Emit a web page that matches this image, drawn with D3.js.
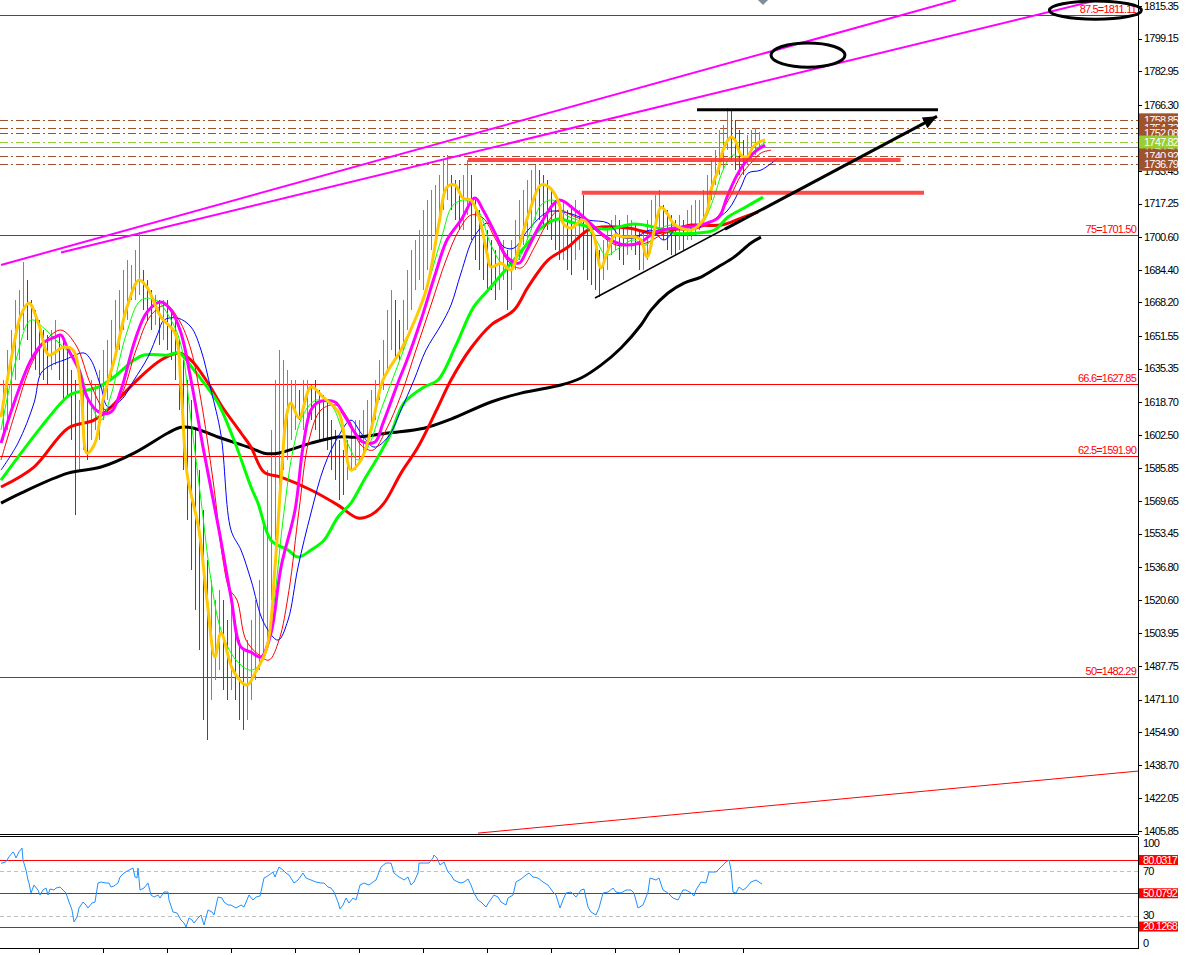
<!DOCTYPE html>
<html><head><meta charset="utf-8">
<script src="https://cdn.jsdelivr.net/npm/d3@7"></script>
<style>
html,body{margin:0;padding:0;background:#fff;overflow:hidden}
svg text{font-family:"Liberation Sans",Arial,sans-serif;font-size:11px;letter-spacing:-0.8px}
</style></head><body>
<svg id="c" width="1186" height="955"></svg>
<script>
// ---------------- DATA ----------------
const priceTicks = [1815.35,1799.15,1782.95,1766.30,1733.45,1717.25,1700.60,1684.40,1668.20,1651.55,1635.35,1618.70,1602.50,1585.85,1569.65,1553.45,1536.80,1520.60,1503.95,1487.75,1471.10,1454.90,1438.70,1422.05,1405.85];

const highs = [1629.7,1644.6,1654.5,1669.4,1674.3,1688.2,1679.3,1669.4,1664.4,1659.5,
1654.5,1652.0,1654.5,1659.5,1652.0,1649.5,1644.6,1634.6,1629.7,1619.7,
1624.7,1619.7,1629.7,1627.2,1634.6,1644.6,1649.5,1659.5,1669.4,1674.3,
1684.3,1689.2,1686.8,1694.2,1703.1,1684.3,1679.3,1674.3,1671.9,1669.4,
1669.4,1669.4,1664.4,1659.5,1649.5,1639.6,1629.7,1619.7,1604.9,1585.0,
1565.1,1540.3,1530.4,1520.5,1525.4,1520.5,1510.5,1520.5,1510.5,1500.6,
1495.6,1500.6,1510.5,1520.5,1530.4,1560.2,1585.0,1604.9,1629.7,1644.6,
1639.6,1634.6,1629.7,1629.7,1624.7,1629.7,1629.7,1627.2,1629.7,1624.7,
1622.2,1619.7,1609.8,1604.9,1599.9,1594.9,1599.9,1604.9,1609.8,1609.8,
1614.8,1619.7,1624.7,1629.7,1639.6,1649.5,1664.4,1674.3,1669.4,1659.5,
1669.4,1684.3,1694.2,1699.2,1704.1,1714.1,1719.0,1724.0,1726.5,1731.4,
1738.9,1741.4,1731.4,1729.0,1729.0,1731.4,1738.9,1731.4,1719.0,1714.1,
1704.1,1704.1,1699.2,1694.2,1696.7,1699.2,1694.2,1699.2,1709.1,1719.0,
1724.0,1729.0,1733.9,1736.4,1733.9,1731.4,1729.0,1724.0,1719.0,1716.5,
1719.0,1714.1,1716.5,1719.0,1714.1,1721.5,1709.1,1704.1,1699.2,1694.2,
1699.2,1704.1,1709.1,1711.6,1709.1,1706.6,1711.6,1709.1,1706.6,1704.1,
1704.1,1709.1,1719.0,1721.5,1724.0,1716.5,1714.1,1711.6,1709.1,1711.6,
1709.1,1714.1,1716.5,1719.0,1719.0,1724.0,1731.4,1738.9,1743.8,1753.8,
1756.3,1764.7,1763.7,1758.7,1753.8,1748.8,1751.3,1753.8,1754.8,1752.8];

const lows = [1599.9,1604.9,1614.8,1629.7,1639.6,1654.5,1649.5,1639.6,1634.6,1632.2,
1629.7,1627.2,1634.6,1637.1,1629.7,1619.7,1622.2,1599.9,1562.7,1585.0,
1594.9,1590.0,1599.9,1604.9,1599.9,1609.8,1619.7,1629.7,1639.6,1644.6,
1654.5,1659.5,1669.4,1669.4,1671.9,1664.4,1659.5,1654.5,1657.0,1647.0,
1649.5,1644.6,1639.6,1629.7,1614.8,1585.0,1560.2,1535.4,1515.5,1495.6,
1460.9,1451.0,1470.8,1480.8,1485.7,1475.8,1470.8,1475.8,1470.8,1460.9,
1455.9,1460.9,1470.8,1480.8,1485.7,1490.7,1500.6,1520.5,1550.2,1570.1,
1585.0,1590.0,1599.9,1604.9,1609.8,1604.9,1609.8,1609.8,1604.9,1599.9,
1599.9,1594.9,1585.0,1580.0,1570.1,1572.6,1580.0,1585.0,1585.0,1590.0,
1592.4,1599.9,1604.9,1609.8,1619.7,1624.7,1634.6,1644.6,1639.6,1639.6,
1644.6,1654.5,1664.4,1674.3,1679.3,1674.3,1684.3,1694.2,1699.2,1706.6,
1714.1,1719.0,1714.1,1709.1,1704.1,1704.1,1711.6,1699.2,1689.2,1684.3,
1679.3,1674.3,1674.3,1669.4,1674.3,1679.3,1664.4,1674.3,1684.3,1689.2,
1696.7,1699.2,1704.1,1709.1,1709.1,1706.6,1704.1,1699.2,1694.2,1689.2,
1689.2,1684.3,1681.8,1689.2,1694.2,1684.3,1679.3,1676.8,1674.3,1670.9,
1679.3,1684.3,1691.7,1694.2,1689.2,1686.8,1691.7,1694.2,1691.7,1684.3,
1684.3,1689.2,1696.7,1701.6,1704.1,1699.2,1694.2,1691.7,1691.7,1694.2,
1694.2,1699.2,1699.2,1701.6,1704.1,1706.6,1711.6,1719.0,1726.5,1731.4,
1733.9,1743.8,1738.9,1733.9,1731.4,1731.4,1736.4,1738.9,1741.4,1743.8];

// moving averages as [bar index, price]
const maYellow = [[-0.5,1611.3],[2,1639.6],[4.5,1661.9],[6.5,1667.9],[9,1657.0],[11.5,1642.1],[15,1646.0],[17.5,1644.6],[19.5,1624.7],[21,1593.4],[23,1598.4],[25,1619.7],[28,1641.1],[31,1665.9],[34,1679.3],[36,1675.8],[39.5,1660.9],[43,1653.0],[44.5,1626.2],[46,1583.5],[49,1555.2],[51,1520.5],[53,1492.2],[54.5,1504.1],[57.5,1485.7],[61,1478.3],[63,1484.2],[66,1497.1],[68,1536.8],[69.5,1580.0],[71,1613.3],[72,1618.3],[74,1610.8],[77,1626.2],[80,1621.2],[84,1613.3],[87,1585.0],[89.5,1590.0],[92,1604.9],[95,1629.7],[99.5,1644.6],[103,1659.5],[106,1675.8],[109,1707.6],[111,1725.5],[113,1726.5],[115,1720.0],[117,1719.0],[119,1710.6],[121,1692.7],[122,1685.8],[124.5,1687.7],[127,1684.3],[129,1695.7],[131.5,1712.6],[134.5,1726.5],[136.5,1725.5],[139,1717.5],[140,1707.6],[142,1705.1],[145,1709.1],[147.5,1702.6],[149.5,1685.3],[151,1692.7],[153,1701.6],[155,1700.7],[158,1700.7],[159.5,1699.2],[161,1690.7],[163,1705.6],[164.5,1715.5],[166,1712.6],[167.5,1707.6],[169.5,1705.1],[172,1704.1],[174.5,1707.6],[176,1713.1],[177,1724.0],[179,1735.4],[180,1743.8],[182,1750.3],[183,1748.8],[184.5,1741.4],[186,1740.4],[187.5,1745.3],[189,1747.8],[190.5,1748.8]];
const maMagenta = [[-0.5,1598.4],[3,1619.7],[7,1639.6],[10,1648.0],[13,1651.0],[14.5,1652.0],[16,1646.0],[19,1634.6],[21,1621.2],[24,1613.8],[27,1613.8],[29.5,1624.7],[33,1649.5],[36,1663.4],[39.5,1668.4],[42,1664.4],[44.5,1653.0],[47,1629.7],[50,1596.4],[54,1555.2],[57,1521.9],[59.5,1497.1],[62,1494.6],[64.5,1492.2],[67,1504.1],[69.5,1536.8],[73,1565.1],[75,1596.4],[77,1614.8],[79,1618.8],[83,1618.8],[85,1613.3],[88,1603.4],[90,1598.9],[93,1598.9],[95,1608.3],[99,1629.7],[101,1639.6],[104.5,1659.5],[108,1681.8],[111,1699.2],[114.5,1709.1],[118,1720.0],[120,1714.1],[123,1702.6],[126,1690.7],[129,1687.7],[131,1694.2],[134.5,1707.6],[139,1719.0],[143,1714.1],[146,1709.1],[149.5,1702.6],[153,1698.2],[156,1696.7],[159.5,1698.2],[163,1703.1],[166,1704.6],[170,1705.6],[173,1706.1],[176,1707.6],[179,1710.6],[181,1720.5],[183.5,1731.4],[186,1738.9],[188.5,1743.8],[190.5,1746.3]];
const maLime = [[-0.5,1604.9],[3.25,1639.6],[7,1659.5],[10.75,1654.5],[14.5,1647.0],[18.25,1639.6],[22,1617.3],[24.5,1609.8],[27,1622.2],[30.75,1652.0],[34.5,1669.4],[38.25,1669.4],[42,1659.5],[44.5,1647.0],[47,1609.8],[49.5,1570.1],[52,1530.4],[54.5,1505.6],[58.25,1490.7],[62,1485.7],[65,1490.7],[67.5,1515.5],[70,1560.2],[72.5,1594.9],[75,1612.3],[78.25,1619.7],[82,1617.3],[85.75,1599.9],[88.75,1590.0],[91.5,1597.4],[94.5,1614.8],[98.25,1634.6],[102,1654.5],[105.75,1674.3],[109.5,1699.2],[112.5,1716.5],[115.75,1719.0],[119,1713.1],[122,1696.7],[125.25,1686.8],[128.25,1688.2],[131.5,1701.6],[134.5,1716.5],[137.5,1719.0],[140.75,1711.6],[144.5,1708.1],[148.25,1699.2],[150.75,1691.7],[154,1695.2],[157.5,1699.2],[160.75,1696.7],[163.75,1704.1],[167,1706.6],[170.75,1704.1],[174.5,1706.6],[177.5,1719.0],[180,1733.9],[182.5,1741.4],[185,1738.9],[187.5,1742.9],[189.5,1746.3],[190.75,1747.8]];
const maRedThin = [[-0.5,1590.0],[3.25,1614.8],[7,1637.1],[10.75,1649.5],[14.5,1654.5],[18.25,1647.0],[22,1627.2],[25.75,1614.8],[29.5,1622.2],[33.25,1644.6],[37,1661.9],[40.75,1666.9],[44,1659.5],[47,1644.6],[49.5,1619.7],[52.5,1580.0],[55,1540.3],[56.5,1526.4],[58.5,1520.5],[60.75,1500.6],[64,1493.2],[66.5,1490.7],[69,1500.6],[71.5,1525.4],[74,1565.1],[76.5,1599.9],[79.5,1614.8],[83.25,1617.3],[86.5,1609.8],[89.5,1597.4],[92.5,1594.9],[95.75,1604.9],[99.5,1622.2],[103.25,1644.6],[107,1666.9],[110.75,1689.2],[114,1704.1],[117,1711.6],[120,1710.1],[123.25,1699.2],[126.5,1688.2],[129.5,1685.3],[132.75,1695.2],[135.75,1706.6],[139,1714.1],[142,1711.6],[145.75,1708.1],[149.5,1701.6],[153.25,1696.7],[157,1696.7],[160.75,1697.7],[164.5,1701.6],[168.25,1704.1],[172,1704.1],[175.75,1706.6],[179,1711.6],[182,1721.5],[184.5,1731.4],[187,1737.4],[189.5,1742.4],[192,1743.8]];
const maBlue = [[-0.5,1585.0],[3.75,1598.4],[7.75,1618.3],[9.5,1633.1],[12,1637.1],[15.25,1639.6],[20.25,1643.1],[22,1639.6],[24.5,1626.2],[26.25,1616.3],[29.5,1619.7],[32.75,1629.7],[36.25,1641.1],[38.75,1653.0],[40.25,1659.5],[43.75,1660.4],[47,1656.0],[49.5,1644.6],[52,1624.7],[54.5,1602.4],[57,1555.2],[59.5,1545.3],[62,1530.4],[65.25,1509.0],[68.75,1500.6],[71.25,1510.5],[73.75,1536.8],[77,1563.7],[80.25,1586.5],[83.75,1601.4],[87,1609.8],[89.5,1603.4],[92.75,1596.4],[96.25,1601.4],[99.5,1614.8],[102.75,1629.7],[105.75,1644.6],[109.5,1657.0],[112,1666.9],[114.5,1682.8],[117.75,1700.7],[121.25,1707.6],[125.25,1695.7],[127.75,1695.2],[131.25,1704.1],[136.25,1713.1],[141.25,1712.6],[146.25,1709.1],[151.25,1707.6],[154.5,1700.7],[157.75,1700.2],[162,1704.1],[165.25,1699.2],[168.75,1705.6],[172.75,1705.1],[177.75,1709.1],[181.25,1714.1],[184.5,1725.5],[186.25,1732.4],[189.5,1733.9],[193.75,1739.9]];
const maGreen = [[-0.5,1580.0],[4.5,1593.4],[9.5,1606.3],[14.5,1618.3],[17,1622.7],[23.75,1626.2],[27.75,1631.2],[32.75,1639.6],[35.25,1642.1],[41.25,1642.1],[44,1643.1],[47.75,1634.6],[50.25,1628.2],[53.75,1618.3],[57.75,1599.9],[62,1576.6],[63.75,1568.6],[67,1550.2],[71.25,1545.3],[73.75,1541.8],[77,1545.3],[80.25,1550.2],[83.75,1561.7],[87,1568.6],[90.25,1580.0],[93.75,1591.5],[97,1603.4],[100.25,1618.3],[105.25,1626.2],[108.75,1629.7],[113.25,1647.0],[117.5,1665.4],[121.25,1674.3],[126.25,1685.8],[131.25,1697.7],[134.5,1705.1],[138.75,1709.6],[142.75,1707.6],[147,1705.6],[151.25,1704.6],[157.75,1707.1],[162.75,1705.6],[167.75,1702.6],[172.75,1702.6],[177.75,1704.1],[181.25,1710.6],[185.25,1715.1],[190,1720.5]];
const maRed = [[-0.5,1576.6],[7.75,1586.5],[16.25,1605.8],[22.75,1609.8],[27,1616.3],[32.75,1628.2],[39.5,1639.6],[44,1643.1],[47,1639.6],[51.25,1628.2],[54.5,1617.3],[59.5,1603.4],[62,1596.4],[65.25,1584.0],[69.5,1581.5],[77,1575.1],[83.75,1567.6],[88.75,1561.2],[92,1562.7],[95.25,1568.6],[99.5,1583.5],[103.75,1596.4],[108.75,1616.3],[112,1629.7],[117,1645.6],[122,1657.0],[127.75,1664.4],[131.25,1675.8],[136.25,1689.2],[141.25,1695.7],[146.25,1704.1],[149.5,1705.6],[156.25,1705.1],[162.75,1702.6],[168.75,1705.1],[172,1706.6],[179.5,1706.6],[184.5,1710.1],[188.75,1713.1]];
const maBlack = [[-0.5,1568.6],[4.5,1573.6],[16.25,1583.5],[24.5,1586.5],[32.75,1593.4],[41.25,1603.4],[44.5,1606.3],[47.75,1605.8],[53.75,1601.4],[62,1595.9],[65.25,1593.4],[68.75,1593.4],[77,1598.4],[83.75,1601.4],[88.75,1601.4],[96.25,1603.4],[105.25,1605.8],[112,1610.3],[122,1618.8],[129.5,1623.2],[139.5,1627.2],[144.5,1630.7],[149.5,1637.1],[154.5,1645.6],[159.5,1657.0],[162,1664.4],[166.25,1672.9],[170.25,1677.8],[174.5,1680.8],[178.75,1685.8],[182.75,1690.7],[187,1697.7],[189.5,1700.6]];

// RSI [bar index, value]
const rsiPts = [[-0.5,77.0],[0.75,78.4],[1.5,82.9],[2.5,87.4],[2.75,86.3],[3.25,81.8],[4,87.4],[4.75,90.8],[5,80.0],[5.75,71.0],[6.25,62.0],[6.5,59.3],[7,50.3],[7.75,57.5],[8.75,53.0],[9.25,48.5],[10,53.0],[10.75,54.8],[11.25,48.5],[11.75,53.9],[12.75,53.0],[13.25,54.8],[14.25,55.7],[15,53.0],[15.75,50.3],[16.5,42.2],[17.25,35.0],[17.75,24.2],[18.5,28.7],[19,36.8],[20,42.2],[20.75,39.5],[21.25,36.8],[22.25,41.3],[23,42.2],[23.75,59.3],[24.5,60.2],[25.75,59.3],[26.5,59.3],[27,55.7],[27.75,56.6],[28.75,59.3],[29.25,64.7],[30.25,68.3],[31.5,71.0],[32.5,72.8],[33,64.7],[33.5,63.8],[33.75,72.8],[34.25,53.0],[35.25,54.8],[36.25,59.3],[37,48.5],[37.75,46.7],[38.75,48.5],[39.25,45.8],[40.25,51.2],[41.25,51.2],[41.5,44.0],[42.5,33.2],[43.5,32.3],[44.5,26.0],[45.25,23.3],[45.75,19.7],[46.5,27.8],[47.25,26.0],[47.75,23.3],[48.75,27.8],[49.5,30.5],[50.25,21.5],[51.25,35.0],[52.25,33.2],[52.75,30.5],[53.75,46.7],[54.75,45.8],[55.25,42.2],[56.25,39.5],[57,39.5],[58.25,36.8],[59.5,39.5],[60.25,37.7],[61.5,48.5],[62.5,44.0],[63.25,46.7],[64.25,47.6],[65.25,63.8],[65.75,64.7],[66.5,66.5],[67.5,69.2],[68,64.7],[69,73.7],[70,71.0],[70.75,68.3],[71.5,66.5],[72.75,59.3],[73.75,62.0],[75,68.3],[75.75,63.8],[77,62.0],[78.25,60.2],[79.5,59.3],[80.25,59.3],[81.25,55.7],[82,54.8],[82.75,51.2],[83.75,42.2],[84.25,35.9],[85,39.5],[85.75,45.8],[86.5,41.3],[87.5,45.8],[88.25,44.0],[89.25,57.5],[90.25,59.3],[91.5,57.5],[92.5,60.2],[93.25,62.0],[94.5,73.7],[95.75,77.3],[97,77.3],[97.75,68.3],[99,64.7],[99.5,63.8],[100.25,62.0],[101.25,64.7],[102,57.5],[102.75,60.2],[103.75,68.3],[104,77.3],[105.25,77.3],[106.5,77.3],[107.5,81.8],[107.75,84.5],[108.5,81.8],[109.25,75.5],[110.25,78.2],[111.25,69.2],[112,66.5],[112.75,62.0],[113.75,60.2],[114.5,59.3],[115.25,60.2],[116.25,62.9],[117,57.5],[117.75,50.3],[118.75,44.0],[119.5,42.2],[120.75,37.7],[121.5,42.2],[122.75,48.5],[123.75,46.7],[124.5,42.2],[125.75,39.5],[126.25,45.8],[127.5,48.5],[128.25,60.2],[129.5,62.9],[130.75,66.5],[131.5,68.3],[132.5,64.7],[133.75,63.8],[135,60.2],[136.25,57.5],[137.5,51.2],[138.25,48.5],[139.25,36.8],[140,44.0],[140.75,50.3],[142,51.2],[143.25,46.7],[144.5,53.0],[145.25,53.9],[146.25,37.7],[147,33.2],[148.25,30.5],[149,36.8],[150,50.3],[151.25,51.2],[152.5,54.8],[153.25,51.2],[154.5,50.3],[155.75,53.0],[157,53.0],[157.75,50.3],[158.75,36.8],[160,39.5],[161.25,51.2],[161.75,63.8],[163.25,62.0],[164,63.8],[165,53.0],[166.25,50.3],[167.5,45.8],[168.75,44.0],[170,53.0],[170.75,53.0],[172,50.3],[172.75,47.6],[173.25,53.0],[174.5,60.2],[175.75,59.3],[176.5,69.2],[178.25,69.2],[179.5,73.7],[180.75,78.2],[181.5,80.0],[182,71.0],[182.5,51.2],[183.25,50.3],[184,55.7],[185,53.0],[185.75,54.8],[187,60.2],[188.25,62.0],[189,60.2],[189.75,58.4]];
const rsiLevels = [80.0317, 50.0792, 20.1268];
const rsiDashed = [70, 30];
const rsiTicks = [100, 70, 30, 0];

// horizontal Fibonacci levels
const fibLevels = [1811.11, 1701.50, 1627.85, 1591.90, 1482.29];
const fibNames = ["87.5=1811.11", "75=1701.50", "66.6=1627.85", "62.5=1591.90", "50=1482.29"];

// price level lines with right-side labels
const levelPrices = [1758.85, 1754.73, 1752.08, 1745.45, 1747.82, 1740.92, 1736.79];
const levelKinds  = ["brown","brown","brown","bid","green","brown","brown"];

// drawn objects: [bar index, price]
const channelA = [[-0.5,1686.8],[238.25,1818.3]];
const channelB = [[14.5,1693.0],[284,1823.3]];
const resistTop = [[173.5,1763.9],[233.75,1763.9]];
const supportA = [[116.25,1738.9],[224.4,1738.9]];
const supportB = [[144.7,1722.6],[230.25,1722.6]];
const triLine = [[148,1670.4],[189.25,1714.1]];
const arrowLine = [[180.5,1704.6],[233.5,1760.6]];
const lowerTrend = [[118.75,1404.8],[283.75,1435.6]];
const ellipses = [[201.25,1791.0,9.25,6.0],[273.1,1813.3,11.5,4.5]]; // center i, center p, radius bars, radius price
const topMarker = [190, 1818.8];
const timeTicks = [9,25,41,57,73,89,105,121,137,153,169,185];

// ---------------- DRAW ----------------
const svg = d3.select('#c');
const plotR = 1138, mainB = 834;
const x = d3.scaleLinear().domain([0,189]).range([3,759]);
const y = d3.scaleLinear().domain([1405.85,1815.35]).range([831,6]);
const yr = d3.scaleLinear().domain([0,100]).range([948.9,837.8]);

const defs = svg.append('defs');
defs.append('clipPath').attr('id','cm').append('rect').attr('x',0).attr('y',0).attr('width',plotR).attr('height',mainB);
defs.append('clipPath').attr('id','cr').append('rect').attr('x',0).attr('y',837).attr('width',plotR).attr('height',111);

svg.append('rect').attr('width',1186).attr('height',955).attr('fill','#fff');
const gm = svg.append('g').attr('clip-path','url(#cm)');

// fib lines
fibLevels.forEach((p,k)=>{
  gm.append('line').attr('x1',0).attr('x2',plotR).attr('y1',Math.round(y(p))+0.5).attr('y2',Math.round(y(p))+0.5)
    .attr('stroke','#ff0000').attr('stroke-width',1);
  gm.append('text').attr('x',1136).attr('y',Math.round(y(p))-2).attr('text-anchor','end').attr('fill','#ff0000').text(fibNames[k]);
});

// level lines
levelPrices.forEach((p,k)=>{
  const kind = levelKinds[k];
  const yy = Math.round(y(p))+0.5;
  const ln = gm.append('line').attr('x1',0).attr('x2',plotR).attr('y1',yy).attr('y2',yy);
  if(kind==='bid') ln.attr('stroke','#778899').attr('stroke-width',1);
  else ln.attr('stroke', kind==='green' ? '#9ACD32' : '#A0522D').attr('stroke-width',1).attr('stroke-dasharray','8,3,2,3');
});

// bars
const barG = gm.append('g').attr('shape-rendering','crispEdges');
highs.forEach((h,i)=>{
  const mid = (h+lows[i])/2, prev = i>0 ? (highs[i-1]+lows[i-1])/2 : mid;
  const xx = Math.round(x(i))+0.5;
  barG.append('line').attr('x1',xx).attr('x2',xx).attr('y1',y(h)).attr('y2',y(lows[i]))
    .attr('stroke', mid>=prev ? '#00e000' : '#ff0000').attr('stroke-width',1);
});

// moving averages
const lineGen = d3.line().x(d=>x(d[0])).y(d=>y(d[1])).curve(d3.curveCatmullRom.alpha(0.5));
const mas = [
  [maBlack,'#000000',3],[maRed,'#ff0000',3],[maGreen,'#00ff00',3],
  [maBlue,'#0000ff',1],[maRedThin,'#ff0000',1],[maLime,'#00ff00',1],
  [maMagenta,'#ff00ff',3],[maYellow,'#ffc800',3]
];
mas.forEach(([d,c,w])=>{
  gm.append('path').attr('d',lineGen(d)).attr('fill','none').attr('stroke',c).attr('stroke-width',w).attr('stroke-linejoin','round');
});

// objects
const seg = (pts,c,w,op)=> gm.append('line')
  .attr('x1',x(pts[0][0])).attr('y1',y(pts[0][1])).attr('x2',x(pts[1][0])).attr('y2',y(pts[1][1]))
  .attr('stroke',c).attr('stroke-width',w).attr('stroke-opacity',op||1);
seg(channelA,'#ff00ff',2);
seg(channelB,'#ff00ff',2);
seg(supportA,'#ff2a2a',4,0.85);
seg(supportB,'#ff2a2a',4,0.85);
seg(resistTop,'#000000',3);
seg(triLine,'#000000',1.5);
seg(arrowLine,'#000000',3);
seg(lowerTrend,'#ff0000',1);
// arrow head
{
  const x1=x(arrowLine[0][0]), y1=y(arrowLine[0][1]), x2=x(arrowLine[1][0]), y2=y(arrowLine[1][1]);
  const a = Math.atan2(y2-y1,x2-x1), L=14, Wd=6;
  const bx = x2-L*Math.cos(a), by = y2-L*Math.sin(a);
  const pts = [[x2,y2],[bx+Wd*Math.sin(a),by-Wd*Math.cos(a)],[bx-Wd*Math.sin(a),by+Wd*Math.cos(a)]];
  gm.append('polygon').attr('points',pts.map(p=>p.join(',')).join(' ')).attr('fill','#000');
}

// top marker (grey diamond)
{
  const cx = x(topMarker[0]), cy = y(topMarker[1]);
  svg.append('path').attr('d',`M${cx},${cy-6}L${cx+6},${cy}L${cx},${cy+6}L${cx-6},${cy}Z`).attr('fill','#7f8c99');
}

// axes lines
const ax = svg.append('g').attr('shape-rendering','crispEdges');
ax.append('line').attr('x1',0).attr('x2',plotR).attr('y1',834.5).attr('y2',834.5).attr('stroke','#000');
ax.append('line').attr('x1',0).attr('x2',plotR).attr('y1',836.5).attr('y2',836.5).attr('stroke','#000');
ax.append('line').attr('x1',0).attr('x2',plotR).attr('y1',948.5).attr('y2',948.5).attr('stroke','#000');
ax.append('line').attr('x1',plotR+0.5).attr('x2',plotR+0.5).attr('y1',0).attr('y2',834.5).attr('stroke','#000');
ax.append('line').attr('x1',plotR+0.5).attr('x2',plotR+0.5).attr('y1',836.5).attr('y2',948.5).attr('stroke','#000');

// price axis labels
priceTicks.forEach(p=>{
  const yy = Math.round(y(p))+0.5;
  ax.append('line').attr('x1',plotR).attr('x2',plotR+4).attr('y1',yy).attr('y2',yy).attr('stroke','#000');
  svg.append('text').attr('x',1144).attr('y',y(p)).attr('dy','0.35em').attr('fill','#000').text(p.toFixed(2));
});

// level labels (boxes)
levelPrices.forEach((p,k)=>{
  const kind = levelKinds[k];
  const yy = y(p);
  svg.append('rect').attr('x',1139).attr('y',yy-6.5).attr('width',39).attr('height',13)
    .attr('fill', kind==='green' ? '#9ACD32' : '#A0522D');
  svg.append('text').attr('x',1144).attr('y',yy).attr('dy','0.35em').attr('fill','#fff').text(p.toFixed(2));
});

// ellipses (not clipped, they overlap the axis)
ellipses.forEach(([ci,cp,ri,rp])=>{
  svg.append('ellipse').attr('cx',x(ci)).attr('cy',y(cp))
    .attr('rx',x(ci+ri)-x(ci)).attr('ry',y(cp-rp)-y(cp))
    .attr('fill','none').attr('stroke','#000').attr('stroke-width',3);
});

// ---------------- RSI ----------------
const gr = svg.append('g').attr('clip-path','url(#cr)');
rsiDashed.forEach(v=>{
  gr.append('line').attr('x1',0).attr('x2',plotR).attr('y1',Math.round(yr(v))+0.5).attr('y2',Math.round(yr(v))+0.5)
    .attr('stroke','#c0c0c0').attr('stroke-dasharray','4,3');
});
rsiLevels.forEach(v=>{
  gr.append('line').attr('x1',0).attr('x2',plotR).attr('y1',Math.round(yr(v))+0.5).attr('y2',Math.round(yr(v))+0.5)
    .attr('stroke','#ff0000').attr('stroke-width',1);
});
gr.append('path').attr('d', d3.line().x(d=>x(d[0])).y(d=>yr(d[1]))(rsiPts))
  .attr('fill','none').attr('stroke','#1E90FF').attr('stroke-width',1);

rsiTicks.forEach(v=>{
  const yy = Math.max(843, Math.min(943, yr(v)));
  svg.append('text').attr('x',1143).attr('y',yy).attr('dy','0.35em').attr('fill','#000').text(v);
});
rsiLevels.forEach(v=>{
  const yy = yr(v);
  svg.append('rect').attr('x',1139).attr('y',yy-5).attr('width',39).attr('height',10).attr('fill','#ff0000');
  svg.append('text').attr('x',1143).attr('y',yy).attr('dy','0.35em').attr('fill','#fff').text(v.toFixed(4));
});

// time ticks
timeTicks.forEach(i=>{
  const xx = Math.round(x(i))+0.5;
  ax.append('line').attr('x1',xx).attr('x2',xx).attr('y1',948.5).attr('y2',953).attr('stroke','#000');
});
</script>
</body></html>
